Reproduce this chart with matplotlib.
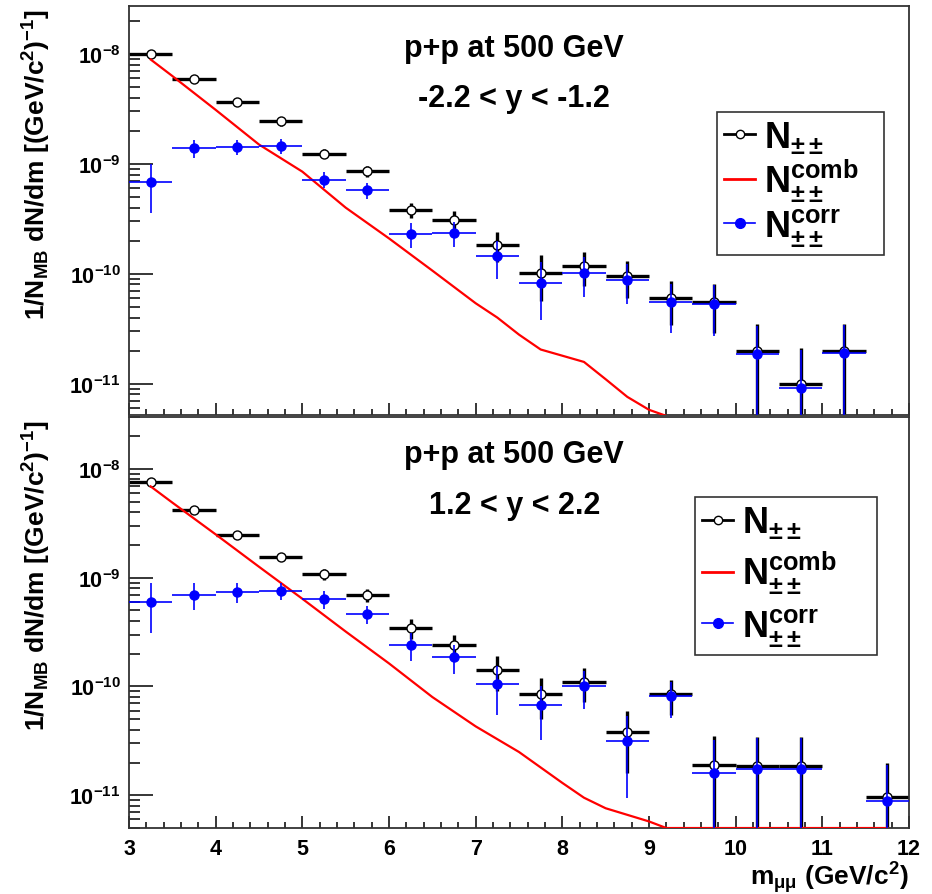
import numpy as np
import matplotlib
matplotlib.use("Agg")
import matplotlib.pyplot as plt
from matplotlib.lines import Line2D
from matplotlib.ticker import MultipleLocator, LogLocator, LogFormatterMathtext, NullFormatter

plt.rcParams.update({
    "font.family": "Liberation Sans",
    "font.weight": "bold",
    "axes.labelweight": "bold",
    "mathtext.fontset": "custom",
    "mathtext.rm": "Liberation Sans:bold",
    "mathtext.it": "Liberation Sans:bold",
    "mathtext.bf": "Liberation Sans:bold",
    "mathtext.sf": "Liberation Sans:bold",
    "axes.unicode_minus": False,
})

# bin centres (0.5 GeV/c^2 bins)
x_top = [3.25, 3.75, 4.25, 4.75, 5.25, 5.75, 6.25, 6.75, 7.25, 7.75, 8.25, 8.75,
         9.25, 9.75, 10.25, 10.75, 11.25]
x_bot = [3.25, 3.75, 4.25, 4.75, 5.25, 5.75, 6.25, 6.75, 7.25, 7.75, 8.25, 8.75,
         9.25, 9.75, 10.25, 10.75, 11.75]

# -2.2 < y < -1.2
npp_top = [1.0e-8, 5.95e-9, 3.65e-9, 2.45e-9, 1.24e-9, 8.6e-10, 3.8e-10, 3.1e-10,
           1.83e-10, 1.02e-10, 1.17e-10, 9.5e-11, 6.0e-11, 5.5e-11, 2.0e-11, 1.0e-11, 2.0e-11]
corr_top = [6.8e-10, 1.39e-9, 1.42e-9, 1.45e-9, 7.2e-10, 5.75e-10, 2.3e-10, 2.37e-10,
            1.45e-10, 8.3e-11, 1.02e-10, 8.8e-11, 5.5e-11, 5.3e-11, 1.86e-11, 9.1e-12, 1.9e-11]
err_top = [3.2e-10, 2.7e-10, 2.2e-10, 2.2e-10, 1.2e-10, 1.0e-10, 6e-11, 6e-11,
           5.5e-11, 4.5e-11, 4e-11, 3.5e-11, 2.6e-11, 2.6e-11, 1.5e-11, 1.1e-11, 1.5e-11]
comb_top_x = [3.25, 3.5, 4.0, 4.5, 5.0, 5.5, 6.0, 6.5, 7.0, 7.25, 7.5, 7.75, 8.0,
              8.25, 8.5, 8.75, 9.0, 9.2]
comb_top = [8.9e-9, 6.3e-9, 3.1e-9, 1.5e-9, 8.5e-10, 4.0e-10, 2.1e-10, 1.07e-10, 5.4e-11,
            4.0e-11, 2.8e-11, 2.05e-11, 1.8e-11, 1.58e-11, 1.1e-11, 7.6e-12, 5.8e-12, 5.1e-12]

# 1.2 < y < 2.2
npp_bot = [7.6e-9, 4.15e-9, 2.45e-9, 1.56e-9, 1.07e-9, 6.9e-10, 3.45e-10, 2.4e-10,
           1.41e-10, 8.5e-11, 1.10e-10, 3.8e-11, 8.5e-11, 1.9e-11, 1.85e-11, 1.85e-11, 9.7e-12]
corr_bot = [6.0e-10, 7.0e-10, 7.4e-10, 7.6e-10, 6.4e-10, 4.65e-10, 2.4e-10, 1.85e-10,
            1.05e-10, 6.7e-11, 1.0e-10, 3.15e-11, 8.1e-11, 1.6e-11, 1.76e-11, 1.76e-11, 8.9e-12]
err_bot = [2.9e-10, 2.0e-10, 1.6e-10, 1.3e-10, 1.2e-10, 9e-11, 7e-11, 5.5e-11,
           5e-11, 3.5e-11, 3.8e-11, 2.2e-11, 3e-11, 1.6e-11, 1.6e-11, 1.6e-11, 1.0e-11]
comb_bot_x = [3.25, 3.5, 4.0, 4.5, 5.0, 5.5, 6.0, 6.5, 7.0, 7.5, 8.0, 8.25, 8.5,
              9.0, 9.2, 10.0, 11.0, 11.75]
comb_bot = [6.9e-9, 4.9e-9, 2.5e-9, 1.26e-9, 6.4e-10, 3.2e-10, 1.63e-10, 8.0e-11, 4.3e-11,
            2.5e-11, 1.3e-11, 9.5e-12, 7.6e-12, 5.75e-12, 5.0e-12, 5.0e-12, 5.0e-12, 5.0e-12]

ylabel = r"1/N$_{\mathrm{MB}}$ dN/dm [(GeV/c$^{2}$)$^{-1}$]"
leg_labels = [r"$\mathrm{N}_{\pm\pm}$",
              r"$\mathrm{N}_{\pm\pm}^{\mathrm{comb}}$",
              r"$\mathrm{N}_{\pm\pm}^{\mathrm{corr}}$"]


def draw_panel(ax, x, npp, corr, err, cx, comb, ylim, lines, txt_y, leg_box, leg_space):
    x = np.array(x)
    ax.errorbar(x, npp, xerr=0.25, yerr=err, fmt="o", color="black", mfc="white",
                mec="black", ms=6.5, elinewidth=2.4, capsize=0, zorder=2)
    ax.plot(cx, comb, color="red", lw=1.6, zorder=3)
    ax.errorbar(x, corr, xerr=0.25, yerr=err, fmt="o", color="blue", ms=6.5,
                elinewidth=1.2, capsize=0, zorder=4)

    ax.set_yscale("log")
    ax.set_xlim(3, 12)
    ax.set_ylim(*ylim)
    ax.xaxis.set_major_locator(MultipleLocator(1))
    ax.xaxis.set_minor_locator(MultipleLocator(0.2))
    ax.yaxis.set_major_locator(LogLocator(base=10))
    ax.yaxis.set_minor_locator(LogLocator(base=10, subs=np.arange(2, 10)))
    ax.yaxis.set_major_formatter(LogFormatterMathtext())
    ax.yaxis.set_minor_formatter(NullFormatter())
    ax.tick_params(axis="x", which="major", direction="in", length=9, width=1.1, labelsize=15.5, pad=7)
    ax.tick_params(axis="x", which="minor", direction="in", length=4.5, width=1.1)
    ax.tick_params(axis="y", which="major", direction="in", length=17, width=1.1, labelsize=15.5, pad=6)
    ax.tick_params(axis="y", which="minor", direction="in", length=8, width=1.1)
    for sp in ax.spines.values():
        sp.set_linewidth(1.3)
        sp.set_color("#333333")

    ax.set_ylabel(ylabel, fontsize=19, loc="top")
    ax.yaxis.set_label_coords(-0.098, 0.995)

    ax.text(0.494, txt_y[0], lines[0], transform=ax.transAxes, ha="center",
            va="baseline", fontsize=22)
    ax.text(0.494, txt_y[1], lines[1], transform=ax.transAxes, ha="center",
            va="baseline", fontsize=22)

    handles = [
        Line2D([], [], color="black", lw=2, marker="o", mfc="white", mec="black", ms=6),
        Line2D([], [], color="red", lw=2),
        Line2D([], [], color="blue", lw=1.2, marker="o", ms=7),
    ]
    leg = ax.legend(handles, leg_labels, loc="upper left", bbox_to_anchor=leg_box,
                    mode="expand", borderaxespad=0, fontsize=26, frameon=True,
                    fancybox=False, handlelength=0.85, handletextpad=0.25,
                    labelspacing=leg_space, borderpad=0.2)
    leg.get_frame().set_edgecolor("black")
    leg.get_frame().set_linewidth(1.2)


fig = plt.figure(figsize=(9.32, 8.95), dpi=100)
ax1 = fig.add_axes([0.1384, 0.5352, 0.8369, 0.4570])
ax2 = fig.add_axes([0.1384, 0.0737, 0.8369, 0.4593])

draw_panel(ax1, x_top, npp_top, corr_top, err_top, comb_top_x, comb_top,
           (5.2e-12, 2.73e-8), ["p+p at 500 GeV", "-2.2 < y < -1.2"], (0.878, 0.755),
           (0.754, 0.4, 0.214, 0.341), 0.05)
draw_panel(ax2, x_bot, npp_bot, corr_bot, err_bot, comb_bot_x, comb_bot,
           (5.0e-12, 3.0e-8), ["p+p at 500 GeV", "1.2 < y < 2.2"], (0.890, 0.766),
           (0.726, 0.4, 0.233, 0.405), 0.25)

ax1.tick_params(axis="x", labelbottom=False)
ax2.set_xlabel(r"m$_{\mathrm{\mu\mu}}$ (GeV/c$^{2}$)", fontsize=19, loc="right")
ax2.xaxis.set_label_coords(1.0, -0.076)

fig.savefig("out.png", dpi=100)
